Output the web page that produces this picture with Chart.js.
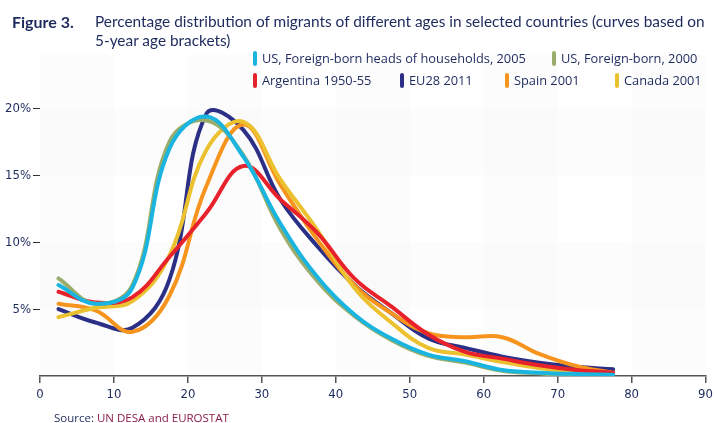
<!DOCTYPE html>
<html>
<head>
<meta charset="utf-8">
<script src="https://cdn.jsdelivr.net/npm/chart.js@4/dist/chart.umd.min.js"></script>
<style>
  body { margin: 0; background: #fff; }
  #wrap { position: relative; width: 717px; height: 423px; overflow: hidden; }
  #wrap canvas { position: absolute; left: 0; top: 0; }
  .txt { position: absolute; white-space: nowrap; color: #1d2a5d; }
  .fig { left: 12px; top: 12px; font: bold 16px Lato, sans-serif; }
  .ttl { left: 95px; top: 12px; font: 15.4px Lato, sans-serif; line-height: 19px; }
  .leg { font: 12.8px 'Open Sans', sans-serif; line-height: 15px; }
  .leg i { position: absolute; left: -9px; top: 0; width: 4px; height: 15px; border-radius: 2px; }
  .src { left: 54px; top: 410px; font: 11.5px 'Open Sans', sans-serif; }
  .src span { color: #8c1d4c; }
</style>
</head>
<body>
<div id="wrap">
  <canvas class="jsMigrantsChart" width="717" height="423"></canvas>
  <div class="txt fig">Figure 3.</div>
  <div class="txt ttl">Percentage distribution of migrants of different ages in selected countries (curves based on<br>5-year age brackets)</div>
  <div class="txt leg" style="left:262px;top:51px"><i style="background:#19b5e0"></i>US, Foreign-born heads of households, 2005</div>
  <div class="txt leg" style="left:561px;top:51px"><i style="background:#9aad6a"></i>US, Foreign-born, 2000</div>
  <div class="txt leg" style="left:262px;top:73px"><i style="background:#e8222b"></i>Argentina 1950-55</div>
  <div class="txt leg" style="left:409px;top:73px"><i style="background:#2b2f86"></i>EU28 2011</div>
  <div class="txt leg" style="left:514px;top:73px"><i style="background:#f7941d"></i>Spain 2001</div>
  <div class="txt leg" style="left:624px;top:73px"><i style="background:#ecc12f"></i>Canada 2001</div>
  <div class="txt src">Source: <span>UN DESA and EUROSTAT</span></div>
</div>
<script>
'use strict';

// midpoints of the 5-year age brackets
let ages = [2.5, 7.5, 12.5, 17.5, 22.5, 27.5, 32.5, 37.5, 42.5, 47.5, 52.5, 57.5, 62.5, 67.5, 72.5, 77.5];

let usHeads2005 = [6.8, 5.4, 6.6, 17.0, 19.4, 16.4, 11.4, 7.4, 4.6, 2.8, 1.6, 1.1, 0.45, 0.25, 0.15, 0.1];
let usBorn2000 = [7.3, 5.4, 6.8, 17.5, 19.1, 16.5, 11.0, 7.1, 4.5, 2.7, 1.5, 1.0, 0.4, 0.2, 0.05, 0.0];
let argentina = [6.3, 5.5, 5.9, 8.9, 12.2, 15.7, 13.2, 10.7, 7.3, 5.2, 3.1, 1.8, 1.3, 0.8, 0.45, 0.25];
let eu28 = [5.0, 4.0, 3.6, 7.2, 19.6, 18.4, 13.2, 9.7, 6.8, 4.7, 2.8, 2.1, 1.45, 1.0, 0.7, 0.5];
let spain = [5.4, 4.9, 3.3, 6.0, 14.2, 18.8, 14.3, 10.2, 6.8, 4.7, 3.2, 2.9, 2.9, 1.65, 0.75, 0.25];
let canada = [4.4, 5.1, 5.6, 9.0, 16.9, 19.0, 14.7, 10.9, 6.6, 4.0, 2.1, 1.6, 1.05, 0.6, 0.3, 0.1];

let tickFont = {family: "'Liberation Sans Narrow', 'DejaVu Sans Condensed', sans-serif", size: 13};

function toPoints(values) {
  return values.map(function (v, i) {
    return {x: ages[i], y: v};
  });
}

function makeSet(label, values, color) {
  return {
    label: label,
    data: toPoints(values),
    borderColor: color,
    backgroundColor: color,
    borderWidth: 4,
    borderCapStyle: 'round',
    pointRadius: 0,
    tension: 0.4,
    fill: false
  };
}

// faint checkered backdrop: grey columns every other decade, grey rows every other 5%
let bandsPlugin = {
  id: 'bands',
  beforeDatasetsDraw: function (chart) {
    let c = chart.ctx, a = chart.chartArea, x = chart.scales.x, y = chart.scales.y;
    c.save();
    c.fillStyle = 'rgba(0,0,0,0.012)';
    for (let v = 0; v < 90; v += 20) {
      c.fillRect(x.getPixelForValue(v), a.top, x.getPixelForValue(v + 10) - x.getPixelForValue(v), a.bottom - a.top);
    }
    [5, 15].forEach(function (v) {
      c.fillRect(a.left, y.getPixelForValue(v + 5), a.right - a.left, y.getPixelForValue(v) - y.getPixelForValue(v + 5));
    });
    c.restore();
  }
};

function buildMigrantsChart() {
  let ctx = document.querySelector('.jsMigrantsChart');

  new Chart(ctx, {
    type: 'line',
    data: {
      datasets: [
        makeSet('US, Foreign-born heads of households, 2005', usHeads2005, '#19b5e0'),
        makeSet('US, Foreign-born, 2000', usBorn2000, '#9aad6a'),
        makeSet('Argentina 1950-55', argentina, '#e8222b'),
        makeSet('Canada 2001', canada, '#ecc12f'),
        makeSet('Spain 2001', spain, '#f7941d'),
        makeSet('EU28 2011', eu28, '#2b2f86')
      ]
    },
    options: {
      responsive: false,
      animation: false,
      layout: {padding: {top: 55, right: 6, left: 0, bottom: 0}},
      plugins: {
        legend: {display: false},
        title: {display: false},
        tooltip: {enabled: false}
      },
      scales: {
        x: {
          type: 'linear',
          min: 0,
          max: 90,
          afterFit: function (s) { s.height = 47; },
          border: {color: '#555', width: 1.5},
          grid: {drawOnChartArea: false, tickLength: 7, color: '#555', lineWidth: 1.5},
          ticks: {stepSize: 10, color: '#1d2a5d', font: tickFont, padding: 4, maxRotation: 0}
        },
        y: {
          min: 0,
          max: 24,
          afterFit: function (s) { s.width = 40; },
          border: {display: false},
          grid: {
            drawOnChartArea: false,
            tickLength: 7,
            color: function (c) { return c.tick && c.tick.value === 0 ? 'rgba(0,0,0,0)' : '#333'; }
          },
          ticks: {
            stepSize: 5,
            includeBounds: false,
            color: '#1d2a5d',
            font: tickFont,
            padding: 2,
            callback: function (v) { return v === 0 ? '' : v + '%'; }
          }
        }
      }
    },
    plugins: [bandsPlugin]
  });
}

buildMigrantsChart();
</script>
</body>
</html>
